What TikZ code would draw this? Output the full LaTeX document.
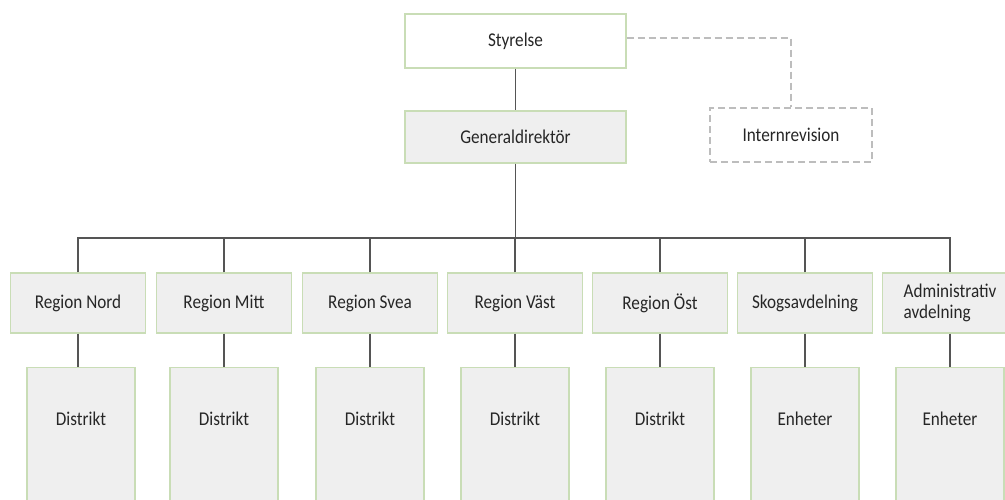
\documentclass[tikz,border=0pt]{standalone}
\usepackage{fontspec}
\setmainfont{Carlito}[FakeStretch=0.88]
\definecolor{boxline}{HTML}{C9DDB6}
\definecolor{boxfill}{HTML}{EFEFEF}
\definecolor{conn}{HTML}{555555}
\definecolor{dash}{HTML}{BDBDBD}
\tikzset{
  base/.style={draw=boxline, line width=1.2pt, font=\fontsize{19.5}{21}\selectfont, text=black!85, inner sep=0pt},
  topbox/.style={base, fill=white, minimum width=221, minimum height=54},
  gdbox/.style={base, fill=boxfill, minimum width=221, minimum height=52},
  regbox/.style={base, fill=boxfill, minimum width=135, minimum height=60},
  distbox/.style={base, fill=boxfill, minimum width=108, anchor=north, text height=58, text depth=150},
  audit/.style={draw=dash, dashed, dash pattern=on 7pt off 4pt, line width=1.1pt, font=\fontsize{19.5}{21}\selectfont, text=black!85, minimum width=162, minimum height=54, inner sep=0pt},
  link/.style={draw=conn, line width=1.1pt},
  dlink/.style={draw=dash, dash pattern=on 7pt off 4pt, line width=1.1pt}
}
\begin{document}
\begin{tikzpicture}[x=1pt,y=-1pt]
\useasboundingbox (0,0) rectangle (1005,499);
\clip (0,0) rectangle (1005,499);
\node[topbox] (sty) at (515.5,41) {Styrelse};
\node[gdbox] (gen) at (515.5,137) {Generaldirektör};
\node[audit] (int) at (791,135) {Internrevision};
\coordinate (bus) at (515.5,238);
\foreach \n/\x/\t in {r1/78/Region Nord, r2/224/Region Mitt, r3/370/Region Svea, r4/515/Region Väst, r5/660/Region Öst, r6/805/Skogsavdelning}{
  \node[regbox] (\n) at (\x,303) {\t};
}
\node[regbox, align=left] (r7) at (950,303) {Administrativ\\avdelning};
\foreach \n/\x/\t in {d1/81/Distrikt, d2/224/Distrikt, d3/370/Distrikt, d4/515/Distrikt, d5/660/Distrikt, d6/805/Enheter, d7/950/Enheter}{
  \node[distbox] (\n) at (\x,367) {\t};
}
\draw[link] (sty) -- (gen);
\draw[link] (gen.south) -- (bus);
\draw[link] (r1.north) |- (bus) -| (r7.north);
\foreach \i in {2,3,4,5,6}{\draw[link] (r\i.north) -- (r\i.north |- bus);}
\foreach \i in {1,...,7}{\draw[link] (r\i.south) -- (r\i.south |- d\i.north);}
\draw[dlink] (sty.east |- 0,38) -| (int.north);
\end{tikzpicture}
\end{document}
